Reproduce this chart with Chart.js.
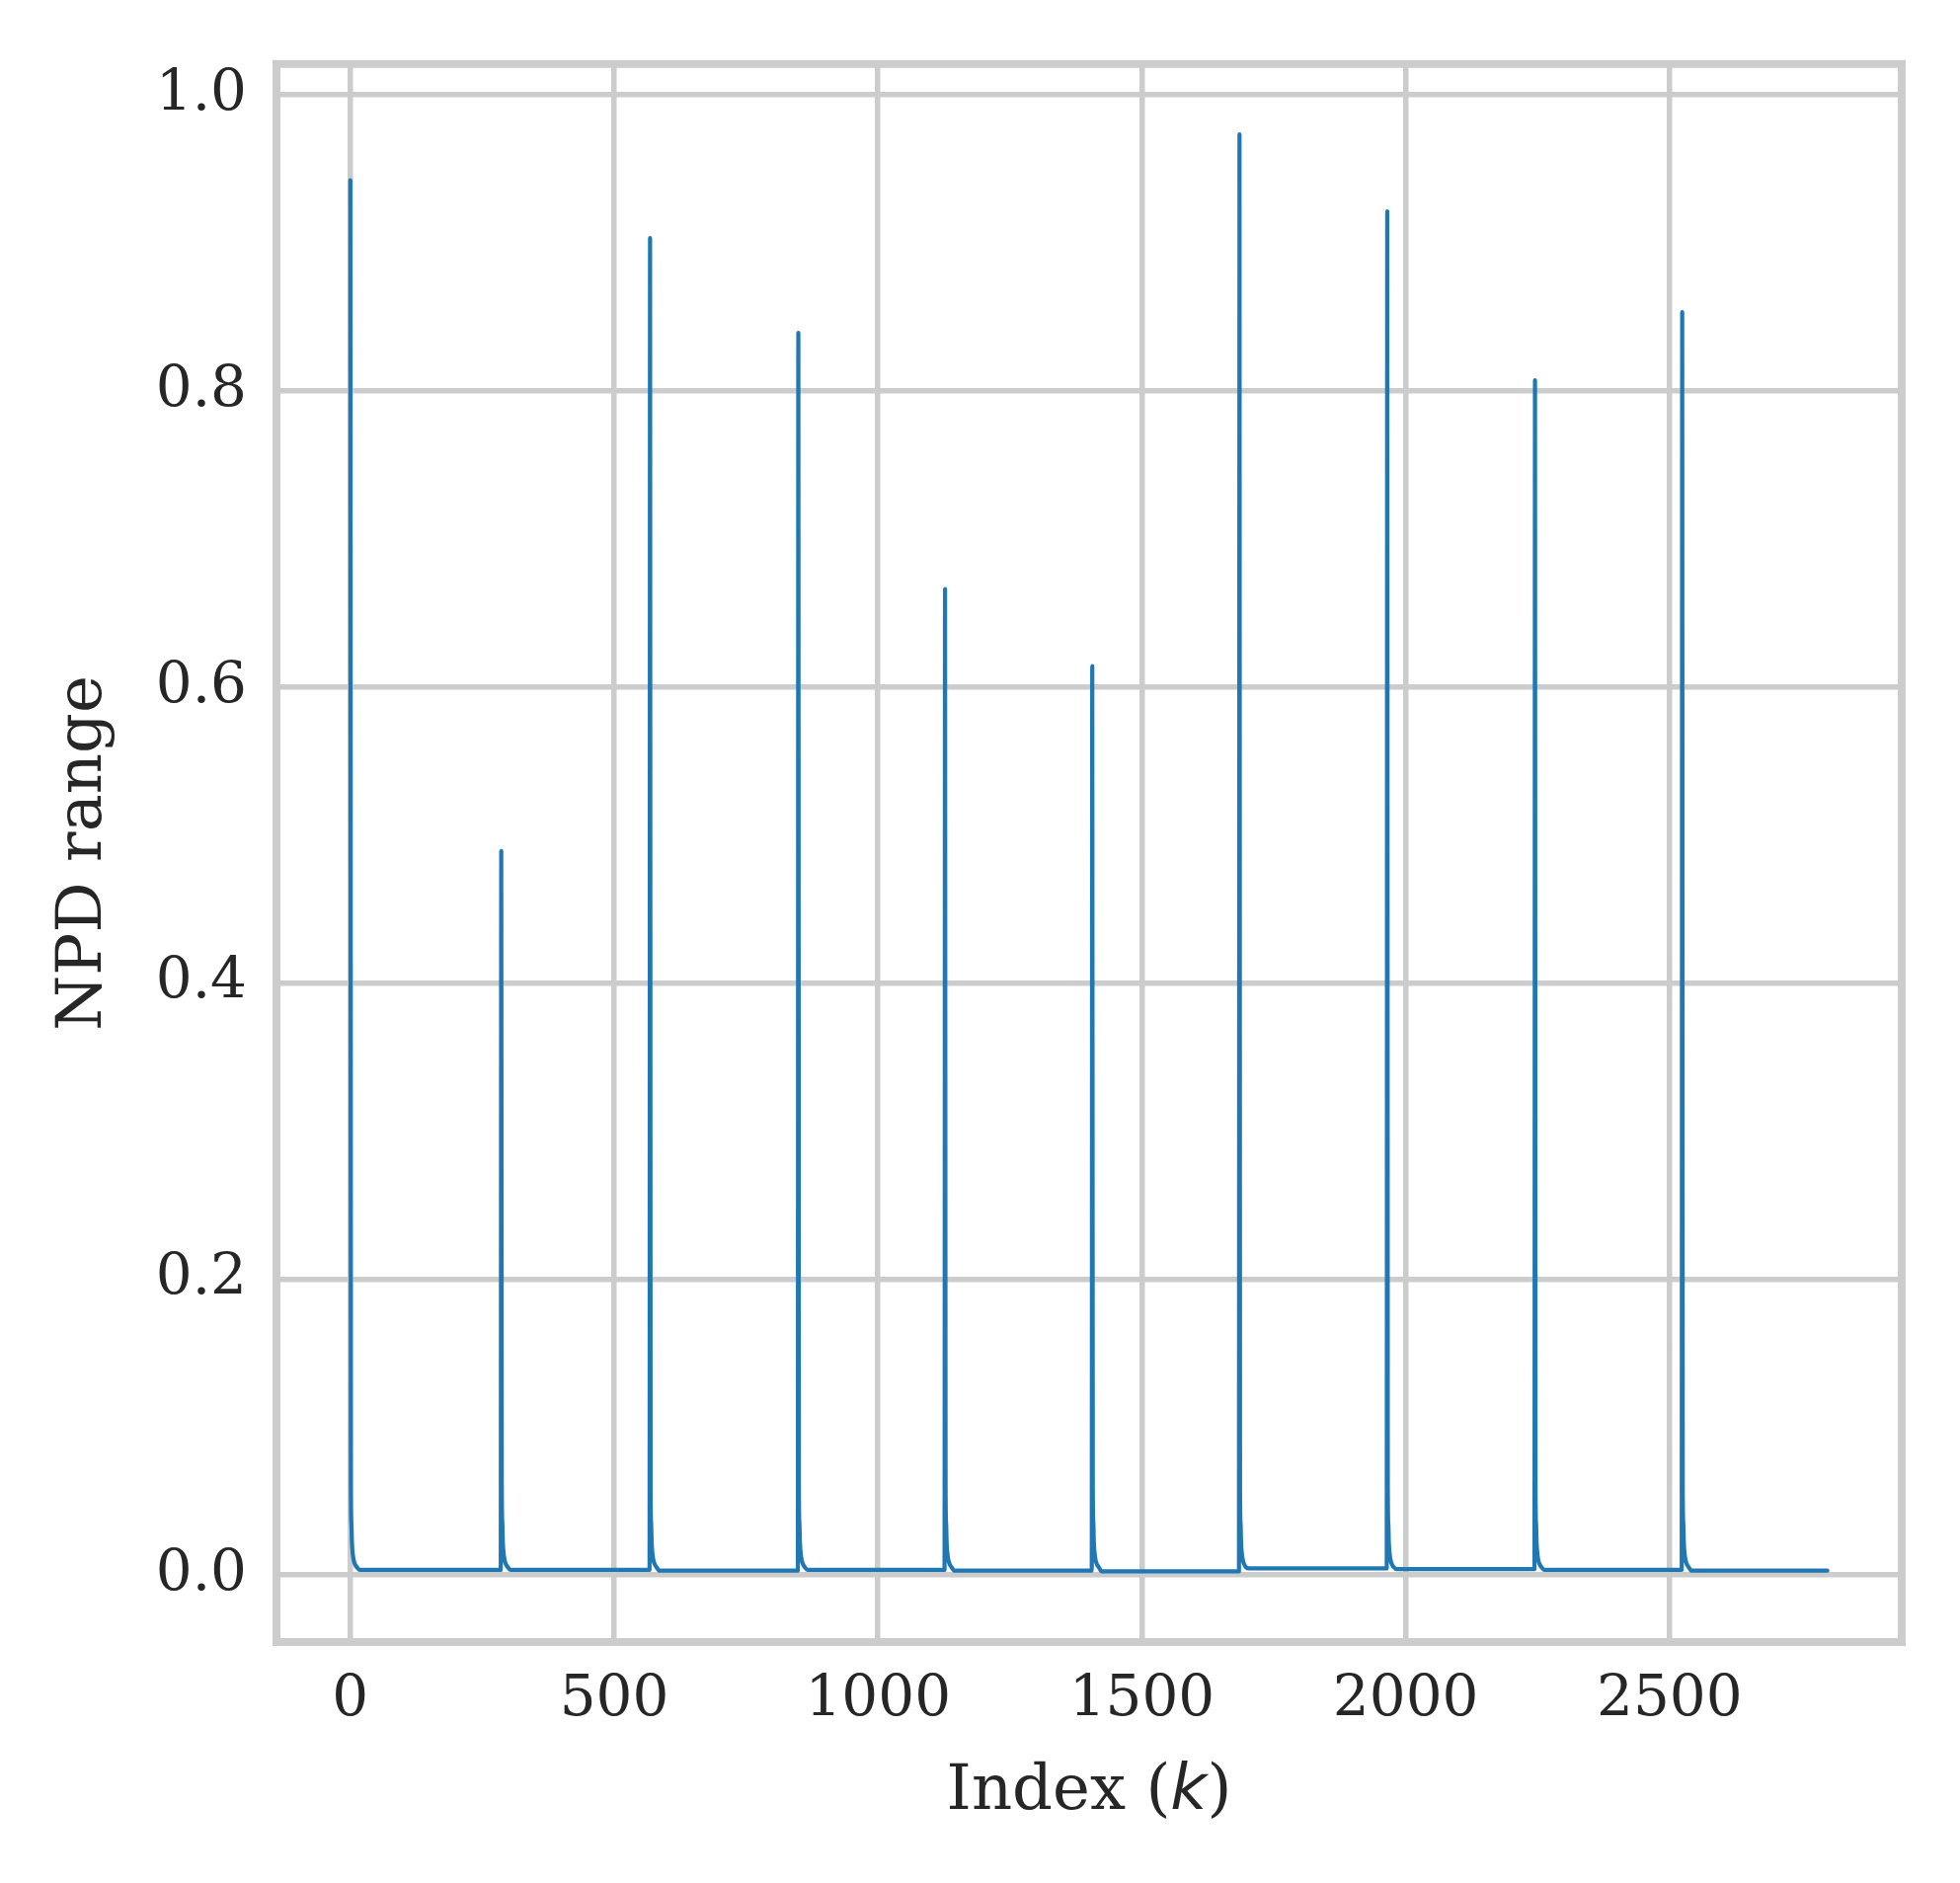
<!DOCTYPE html>
<html>
<head>
<meta charset="utf-8">
<title>NPD range</title>
<script src="https://cdn.jsdelivr.net/npm/chart.js"></script>
<style>
  html, body { margin: 0; padding: 0; background: #ffffff; }
  canvas { display: block; }
</style>
</head>
<body>
<canvas id="npd" width="1985" height="1907"></canvas>
<script>
// spike positions and peak heights
const spikeIndex = [0, 286, 568, 849, 1127, 1406, 1685, 1965, 2245, 2524];
const spikePeak = [0.942, 0.489, 0.903, 0.839, 0.666, 0.614, 0.973, 0.921, 0.807, 0.853];
// flat level between spikes (one per segment)
const floorLevel = [0.0035, 0.0035, 0.003, 0.0035, 0.003, 0.0025, 0.0045, 0.004, 0.0035, 0.003];
// decay just after each spike (offset from spike, value)
const tailOffset = [1, 2, 3, 5, 8, 12];
const tailValue = [0.06, 0.035, 0.022, 0.013, 0.008, 0.0055];
const floorStart = 18;
const lastIndex = 2799;

const xTicks = [0, 500, 1000, 1500, 2000, 2500];
const yTicks = [0, 0.2, 0.4, 0.6, 0.8, 1.0];

// build the line: spike -> decay -> flat -> next spike
const points = [];
spikeIndex.forEach((k, i) => {
  points.push({ x: k, y: spikePeak[i] });
  tailOffset.forEach((d, j) => {
    points.push({ x: k + d, y: Math.max(tailValue[j], floorLevel[i]) });
  });
  points.push({ x: k + floorStart, y: floorLevel[i] });
  const end = i + 1 < spikeIndex.length ? spikeIndex[i + 1] - 1 : lastIndex;
  points.push({ x: end, y: floorLevel[i] });
});

const GRID = '#cccccc';
const TEXT = '#262626';

// box around the axes, drawn over the line like matplotlib spines
const frame = {
  id: 'frame',
  afterDatasetsDraw(chart) {
    const { ctx, chartArea: a } = chart;
    ctx.save();
    ctx.strokeStyle = GRID;
    ctx.lineWidth = 8;
    ctx.strokeRect(a.left, a.top, a.right - a.left, a.bottom - a.top);
    ctx.restore();
  }
};

// x title with italic k
const xTitle = {
  id: 'xTitle',
  afterDraw(chart) {
    const { ctx, chartArea: a } = chart;
    const parts = [
      { t: 'Index (', f: '64px "DejaVu Serif"' },
      { t: 'k', f: 'oblique 64px "DejaVu Sans"' },
      { t: ')', f: '64px "DejaVu Serif"' }
    ];
    ctx.save();
    ctx.fillStyle = TEXT;
    ctx.textBaseline = 'alphabetic';
    ctx.textAlign = 'left';
    let w = 0;
    parts.forEach(p => { ctx.font = p.f; p.w = ctx.measureText(p.t).width; w += p.w; });
    let x = (a.left + a.right) / 2 - w / 2;
    parts.forEach(p => { ctx.font = p.f; ctx.fillText(p.t, x, 1832); x += p.w; });
    ctx.restore();
  }
};

new Chart(document.getElementById('npd'), {
  type: 'line',
  data: {
    datasets: [{
      data: points,
      borderColor: '#1f77b4',
      borderWidth: 4.2,
      borderJoinStyle: 'round',
      borderCapStyle: 'round',
      cubicInterpolationMode: 'monotone',
      pointRadius: 0,
      fill: false
    }]
  },
  options: {
    responsive: false,
    devicePixelRatio: 1,
    animation: false,
    layout: { padding: { left: 0, top: 60, right: 59, bottom: 0 } },
    plugins: { legend: { display: false }, tooltip: { enabled: false } },
    scales: {
      x: {
        type: 'linear',
        min: -140,
        max: 2940,
        afterBuildTicks: s => { s.ticks = xTicks.map(v => ({ value: v })); },
        afterFit: s => { s.height = 244; },
        grid: { color: GRID, lineWidth: 5.5, drawTicks: false },
        border: { display: false },
        ticks: {
          padding: 24,
          maxRotation: 0,
          color: TEXT,
          font: { family: 'DejaVu Serif', size: 58 },
          callback: v => String(v)
        }
      },
      y: {
        type: 'linear',
        min: -0.0452,
        max: 1.0206,
        afterBuildTicks: s => { s.ticks = yTicks.map(v => ({ value: v })); },
        afterFit: s => { s.width = 280; },
        grid: { color: GRID, lineWidth: 5.5, drawTicks: false },
        border: { display: false },
        title: {
          display: true,
          text: 'NPD range',
          color: TEXT,
          font: { family: 'DejaVu Serif', size: 64 },
          padding: { top: 47, bottom: 0 }
        },
        ticks: {
          padding: 30,
          color: TEXT,
          font: { family: 'DejaVu Serif', size: 58 },
          callback: v => v.toFixed(1)
        }
      }
    }
  },
  plugins: [frame, xTitle]
});
</script>
</body>
</html>
